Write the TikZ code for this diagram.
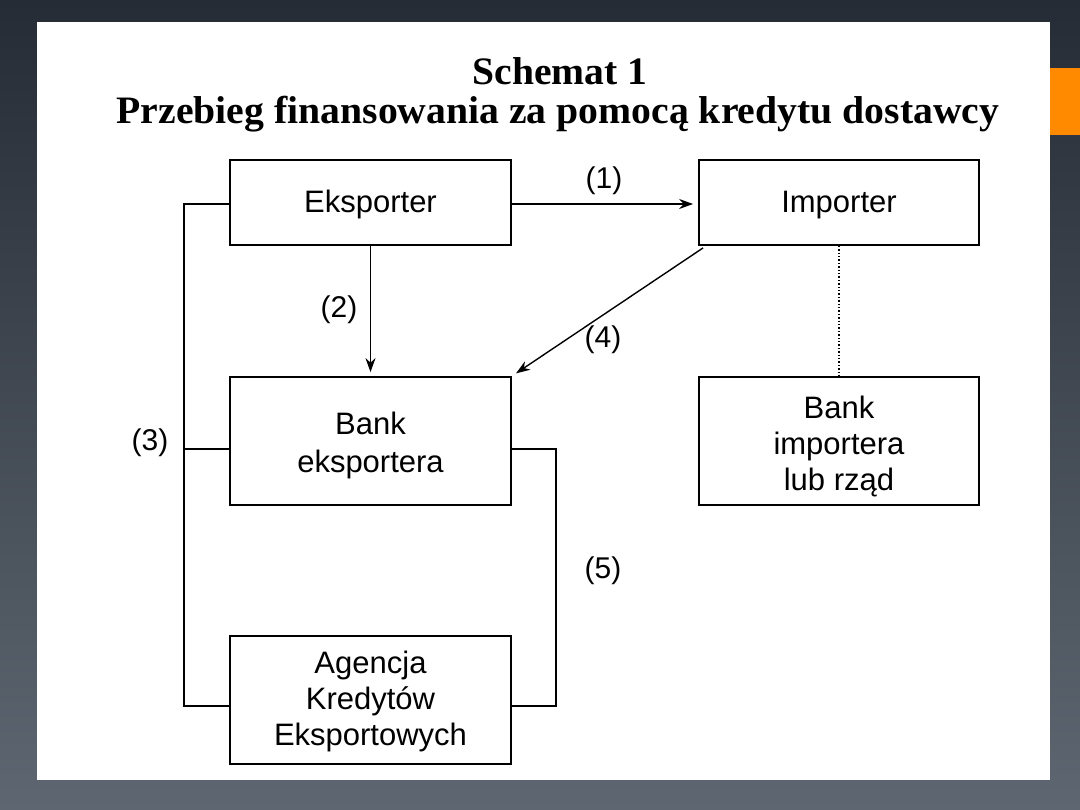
\documentclass[tikz,border=0pt]{standalone}
\usepackage{fontspec}
\setmainfont{Liberation Sans}
\newfontfamily\titlefont{Liberation Serif}
\usetikzlibrary{arrows.meta,calc}
\definecolor{bgtop}{RGB}{38,44,53}
\definecolor{bgbot}{RGB}{94,103,113}
\definecolor{accent}{RGB}{255,138,0}
\tikzset{
  box/.style={draw=black, line width=1.8pt, fill=white, minimum width=281pt, inner sep=0pt, align=center,
    font=\fontsize{31}{36}\selectfont},
  link/.style={draw=black, line width=1.4pt},
  arr/.style={link, -{Stealth[length=14pt,width=10pt]}},
  lab/.style={font=\fontsize{30}{36}\selectfont, inner sep=0pt},
}
\begin{document}
\begin{tikzpicture}[x=1pt,y=-1pt]
\useasboundingbox (0,0) rectangle (1080,810);
\shade[top color=bgtop, bottom color=bgbot] (0,0) rectangle (1080,810);
\fill[white] (37,22) rectangle (1050,780);
\fill[accent] (1050,68) rectangle (1080,135);

\node[font=\titlefont\bfseries\fontsize{37}{44}\selectfont, inner sep=0pt] (t1) at (560,71) {\scalebox{1.07}[1.05]{Schemat 1}};
\node[font=\titlefont\bfseries\fontsize{37}{44}\selectfont, inner sep=0pt] (t2) at (558,114) {\scalebox{1.073}[1.05]{Przebieg finansowania za pomocą kredytu dostawcy}};

\node[box, minimum height=85pt] (eks) at (370.5,202.5) {\rule{0pt}{27pt}Eksporter};
\node[box, minimum height=85pt, minimum width=280pt] (imp) at (839,202.5) {\rule{0pt}{27pt}Importer};
\node[box, minimum height=128pt, font=\fontsize{31}{38}\selectfont] (beks) at (370.5,441) {\rule{0pt}{31pt}Bank\\eksportera};
\node[box, minimum height=128pt, minimum width=280pt] (bimp) at (839,441) {\rule{0pt}{33pt}Bank\\importera\\lub rząd};
\node[box, minimum height=128pt] (ake) at (370.5,700) {\rule{0pt}{25pt}Agencja\\Kredytów\\Eksportowych};

\coordinate (L) at (184,0);
\coordinate (R) at (556,0);
\coordinate (eL) at ($(eks.west)+(0,1.5)$);
\coordinate (bL) at ($(beks.west)+(0,8)$);
\coordinate (bR) at ($(beks.east)+(0,8)$);
\coordinate (aL) at ($(ake.west)+(0,6)$);
\coordinate (aR) at ($(ake.east)+(0,6)$);
\coordinate (eLx) at (eL -| L);
\coordinate (bLx) at (bL -| L);
\coordinate (aLx) at (aL -| L);
\coordinate (bRx) at (bR -| R);
\coordinate (aRx) at (aR -| R);

% (1)
\draw[arr, shorten >=5pt] ($(eks.east)+(0,1.5)$) -- ($(imp.west)+(0,1.5)$);
% (2)
\draw[arr, shorten >=4pt] (eks.south) -- (beks.north);
% (4)
\draw[arr, shorten >=5pt] ($(imp.south west)+(5,2)$) -- (beks.north east);
% dotted
\draw[link, dotted, line width=1.6pt] (imp.south) -- (bimp.north);
% (3)
\draw[link] (eL) -- (eLx) -- (aLx) -- (aL);
\draw[link] (bL) -- (bLx);
% (5)
\draw[link] (bR) -- (bRx) -- (aRx) -- (aR);

\node[lab] (l1) at (604,181) {(1)};
\node[lab] (l2) at (339,310) {(2)};
\node[lab] (l3) at (150,443) {(3)};
\node[lab] (l4) at (603,340) {(4)};
\node[lab] (l5) at (603,571) {(5)};
\end{tikzpicture}
\end{document}
